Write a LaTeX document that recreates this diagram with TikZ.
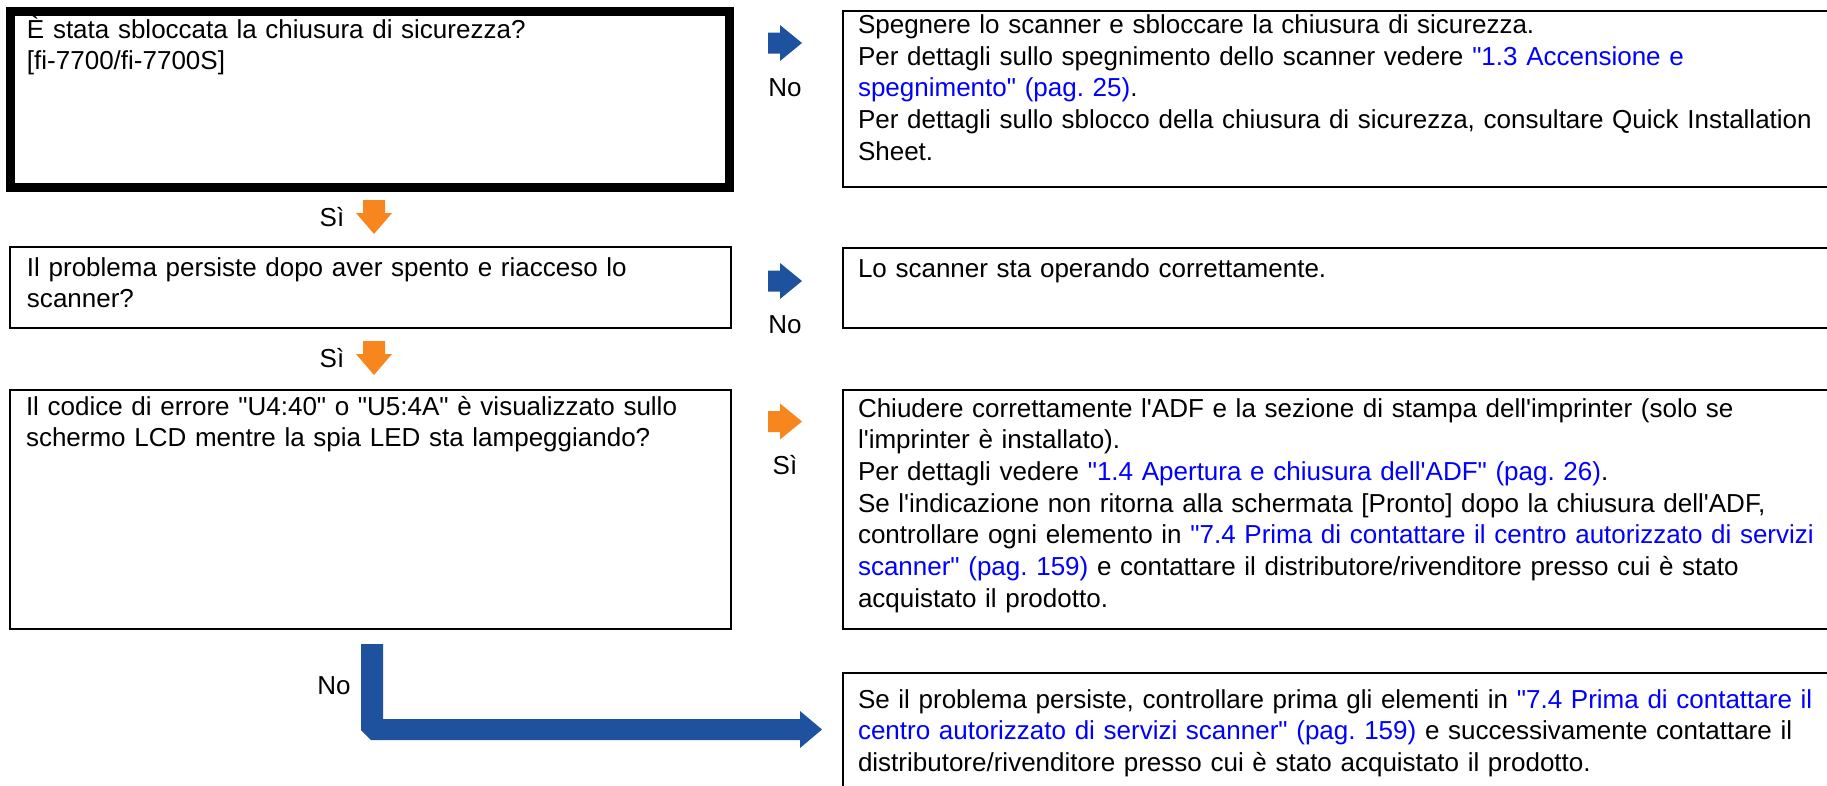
\documentclass[tikz,border=0pt]{standalone}
\usepackage{fontspec}
\setmainfont{Liberation Sans}
\usetikzlibrary{calc}
\definecolor{arrowblue}{RGB}{31,82,158}
\definecolor{arroworange}{RGB}{247,134,31}
\definecolor{linkblue}{RGB}{0,0,255}
\newcommand{\lnk}[1]{\textcolor{linkblue}{#1}}
\newcommand{\qs}{\textquotesingle}
\newcommand{\dq}{\textquotedbl}
\frenchspacing
\begin{document}
\begin{tikzpicture}[x=1pt,y=-1pt,
  every node/.style={font=\fontsize{26}{31.7}\selectfont, inner sep=0pt, outer sep=0pt},
  thinbox/.style={draw=black, line width=2.7pt, anchor=north west},
  thickbox/.style={draw=black, line width=9pt, anchor=north west},
  ltxt/.style={anchor=base west, text width=700pt, align=left},
  rtxt/.style={anchor=base west, text width=1000pt, align=left},
  pics/rarr/.style={code={\fill[#1] (0,0) -- (-22,-18) -- (-22,-10.5) -- (-34,-10.5) -- (-34,10.5) -- (-22,10.5) -- (-22,18) -- cycle;}},
  pics/darr/.style={code={\fill[#1] (0,0) -- (-18,-21) -- (-11,-21) -- (-11,-34) -- (11,-34) -- (11,-21) -- (18,-21) -- cycle;}}
]
\useasboundingbox[fill=white] (0,0) rectangle (1827,785);

% boxes
\node[thickbox, minimum width=719pt, minimum height=176pt] (b1) at (10.5,11.5) {};
\node[thinbox, minimum width=995pt, minimum height=176pt] (b2) at (843,11) {};
\node[thinbox, minimum width=721pt, minimum height=81pt] (b3) at (10,247) {};
\node[thinbox, minimum width=995pt, minimum height=80pt] (b4) at (843,248) {};
\node[thinbox, minimum width=721pt, minimum height=239pt] (b5) at (10,390) {};
\node[thinbox, minimum width=995pt, minimum height=239pt] (b6) at (843,390) {};
\node[thinbox, minimum width=995pt, minimum height=130pt] (b7) at (843,673) {};

% texts
\node[ltxt] (t1) at (27,38) {È stata sbloccata la chiusura di sicurezza?\\
{[}fi-7700/fi-7700S{]}};
\node[rtxt] (t2) at (858,33.5) {Spegnere lo scanner e sbloccare la chiusura di sicurezza.\\
Per dettagli sullo spegnimento dello scanner vedere \lnk{\dq 1.3 Accensione e}\\
\lnk{spegnimento\dq\ (pag. 25)}.\\
Per dettagli sullo sblocco della chiusura di sicurezza, consultare Quick Installation\\
Sheet.};
\node[ltxt] (t3) at (27,276) {Il problema persiste dopo aver spento e riacceso lo\\
scanner?};
\node[rtxt] (t4) at (858,277) {Lo scanner sta operando correttamente.};
\node[ltxt] (t5) at (26,415) {Il codice di errore \dq U4:40\dq\ o \dq U5:4A\dq\ è visualizzato sullo\\
schermo LCD mentre la spia LED sta lampeggiando?};
\node[rtxt] (t6) at (858,417) {Chiudere correttamente l\qs ADF e la sezione di stampa dell\qs imprinter (solo se\\
l\qs imprinter è installato).\\
Per dettagli vedere \lnk{\dq 1.4 Apertura e chiusura dell\qs ADF\dq\ (pag. 26)}.\\
Se l\qs indicazione non ritorna alla schermata {[}Pronto{]} dopo la chiusura dell\qs ADF,\\
controllare ogni elemento in \lnk{\dq 7.4 Prima di contattare il centro autorizzato di servizi}\\
\lnk{scanner\dq\ (pag. 159)} e contattare il distributore/rivenditore presso cui è stato\\
acquistato il prodotto.};
\node[rtxt] (t7) at (858,708) {Se il problema persiste, controllare prima gli elementi in \lnk{\dq 7.4 Prima di contattare il}\\
\lnk{centro autorizzato di servizi scanner\dq\ (pag. 159)} e successivamente contattare il\\
distributore/rivenditore presso cui è stato acquistato il prodotto.};

% arrows
\pic at (802,43) {rarr=arrowblue};
\pic at (802,281) {rarr=arrowblue};
\pic at (802,421.5) {rarr=arroworange};
\pic at (374,234) {darr=arroworange};
\pic at (374,375) {darr=arroworange};
\coordinate (lfrom) at (372,644);
\coordinate (lto) at (822,729.5);
\fill[arrowblue] (lfrom) ++(-11,0) -- ++(22,0) |- (800,719) -- (800,711) -- (lto) -- (800,748) -- (800,740) -- (371,740) -- (361,730) -- cycle;

% labels
\node (no1) at (785,88) {No};
\node (no2) at (785,325) {No};
\node (si3) at (785,465) {Sì};
\node (si1) at (332,217) {Sì};
\node (si2) at (332,358) {Sì};
\node (no3) at (334,686) {No};
\end{tikzpicture}
\end{document}
